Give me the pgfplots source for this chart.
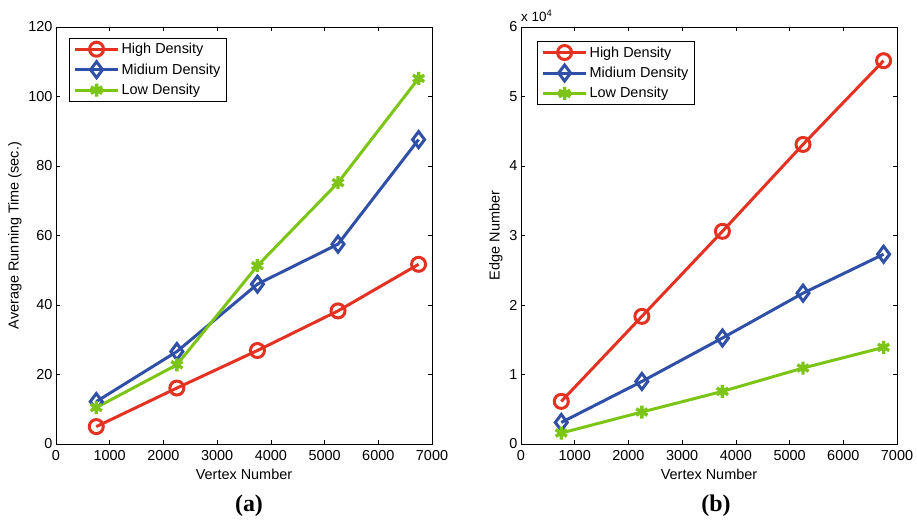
\documentclass[border=0pt]{standalone}
\usepackage{pgfplots}
\pgfplotsset{compat=1.18}
\usepackage{fontspec}
\setmainfont{Liberation Sans}
\newfontfamily\capfont{Liberation Serif}

\definecolor{hired}{RGB}{228,50,34}
\definecolor{midblue}{RGB}{48,80,168}
\definecolor{lowgreen}{RGB}{124,196,22}

\pgfplotsset{
  matlab/.style={
    scale only axis,
    width=376bp, height=417bp,
    xmin=0, xmax=7000,
    xtick={0,1000,...,7000},
    tick align=inside,
    xtick pos=both, ytick pos=both,
    major tick length=4bp,
    tick style={black, line width=0.5bp},
    axis line style={black, line width=0.8bp},
    /pgf/number format/assume math mode=true,
    /pgf/number format/1000 sep={},
    scaled ticks=false,
    tick label style={font=\fontsize{14.5}{16}\selectfont},
    xticklabel style={yshift=-3bp},
    label style={font=\fontsize{14.5}{16}\selectfont},
    xlabel={Vertex Number},
    xlabel style={yshift=-1bp},
    legend cell align=left,
    legend style={draw=black, line width=0.8bp, font=\fontsize{14.5}{16}\selectfont,
      inner xsep=4bp, inner ysep=3bp, row sep=4.5bp, anchor=north west},
    legend image code/.code={
      \draw[mark repeat=2, mark phase=2, line width=3bp, #1] plot coordinates {(0bp,0bp) (21.5bp,0bp) (43bp,0bp)};
    },
  },
  hi/.style={color=hired, line width=3bp, mark=o, mark size=7bp},
  mi/.style={color=midblue, line width=3bp, mark=diamond, mark size=8bp},
  lo/.style={color=lowgreen, line width=3bp, mark=asterisk, mark size=6.5bp,
    mark options={line width=3.4bp}},
}

\begin{document}
\begin{tikzpicture}[x=1bp, y=1bp]
\path[use as bounding box] (0,0) rectangle (917,526);

\begin{axis}[matlab,
  at={(56bp,82bp)}, anchor=south west,
  ymin=0, ymax=120, ytick={0,20,...,120},
  ylabel={Average Running Time (sec.)},
  legend style={at={(rel axis cs:0.035,0.974)}},
]
\addplot[hi] coordinates {(750,5.0) (2250,16.1) (3750,26.9) (5250,38.3) (6750,51.7)};
\addlegendentry{High Density}
\addplot[mi] coordinates {(750,12.2) (2250,26.6) (3750,46.0) (5250,57.5) (6750,87.6)};
\addlegendentry{Midium Density}
\addplot[lo] coordinates {(750,10.5) (2250,22.8) (3750,51.3) (5250,75.2) (6750,105.2)};
\addlegendentry{Low Density}
\end{axis}

\begin{axis}[matlab,
  at={(521bp,82bp)}, anchor=south west,
  ymin=0, ymax=60000, ytick={0,10000,...,60000},
  yticklabels={0,1,2,3,4,5,6},
  ylabel={Edge Number},
  legend style={at={(rel axis cs:0.043,0.966)}},
  clip=false,
]
\addplot[hi] coordinates {(750,6130) (2250,18360) (3750,30600) (5250,43100) (6750,55150)};
\addlegendentry{High Density}
\addplot[mi] coordinates {(750,3100) (2250,9000) (3750,15250) (5250,21700) (6750,27300)};
\addlegendentry{Midium Density}
\addplot[lo] coordinates {(750,1580) (2250,4600) (3750,7570) (5250,10930) (6750,13900)};
\addlegendentry{Low Density}
\node[anchor=south west, inner sep=0pt, yshift=5bp, font=\fontsize{13.5}{15}\selectfont]
  at (rel axis cs:0,1) {x 10\textsuperscript{4}};
\end{axis}

\node[font=\capfont\bfseries\fontsize{24}{26}\selectfont] at (249,20) {(a)};
\node[font=\capfont\bfseries\fontsize{24}{26}\selectfont] at (716,20) {(b)};
\end{tikzpicture}
\end{document}
